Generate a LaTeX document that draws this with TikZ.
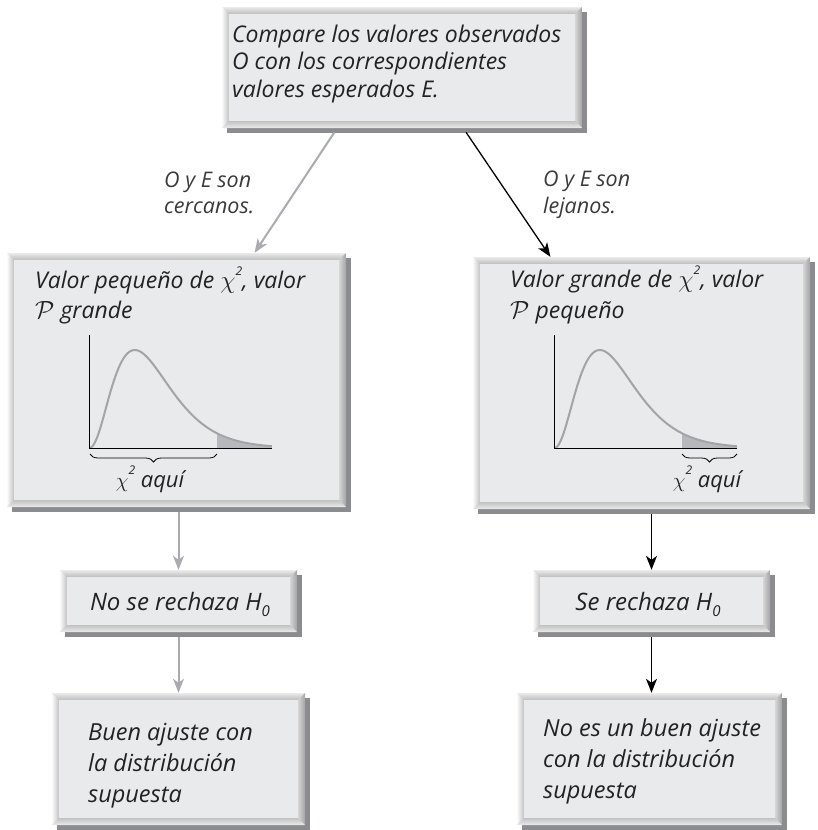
\documentclass[tikz,border=0pt]{standalone}
\usepackage{fontspec}
\setmainfont{Open Sans}
\usetikzlibrary{shadows,calc,decorations.pathreplacing,arrows.meta}
\definecolor{boxfill}{HTML}{E9EAEC}
\definecolor{bevbase}{HTML}{D0D1D3}
\definecolor{shadowc}{HTML}{8B8C8F}
\definecolor{arrgray}{HTML}{AAABAE}
\definecolor{curvegray}{HTML}{A3A4A7}
\definecolor{tailgray}{HTML}{B7B8BB}
\definecolor{txtc}{HTML}{222222}
\definecolor{lblc}{HTML}{3A3A3A}
\newcommand\chigraph[1]{%
  \begin{scope}[shift={#1}]
    \fill[tailgray] plot[domain=0.70:1,samples=40] ({183*\x},{-98*pow(4*\x,2.46)*exp(-2.46*(4*\x-1))}) -- (183,0) -- (128.1,0) -- cycle;
    \draw[curvegray, line width=2pt] plot[domain=0.002:1,samples=120] ({183*\x},{-98*pow(4*\x,2.46)*exp(-2.46*(4*\x-1))});
    \draw[line width=0.9pt] (0,-113) -- (0,0) -- (183,0);
  \end{scope}}
\newcommand\chisq{$\chi$\raisebox{0.55em}{\fontsize{12}{12}\selectfont 2}}
\newcommand\Hzero{H\raisebox{-0.25em}{\fontsize{15}{15}\selectfont 0}}
\tikzset{
  bbox/.style={rectangle, inner sep=0pt, fill=bevbase,
    drop shadow={shadow xshift=5pt, shadow yshift=-5pt, fill=shadowc, opacity=1},
    path picture={
      \coordinate (NW) at (path picture bounding box.north west);
      \coordinate (NE) at (path picture bounding box.north east);
      \coordinate (SW) at (path picture bounding box.south west);
      \coordinate (SE) at (path picture bounding box.south east);
      \coordinate (nw) at ($(NW)+(7pt,-7pt)$);
      \coordinate (ne) at ($(NE)+(-7pt,-7pt)$);
      \coordinate (sw) at ($(SW)+(7pt,7pt)$);
      \coordinate (se) at ($(SE)+(-7pt,7pt)$);
      \shade[top color=black!8, bottom color=black!26] (NW) -- (NE) -- (ne) -- (nw) -- cycle;
      \shade[left color=black!2, right color=black!24] (NW) -- (nw) -- (sw) -- (SW) -- cycle;
      \shade[left color=black!16, right color=black!36] (NE) -- (ne) -- (se) -- (SE) -- cycle;
      \shade[top color=black!24, bottom color=black!8] (SW) -- (sw) -- (se) -- (SE) -- cycle;
      \fill[boxfill] (nw) rectangle (se);
    }},
  txt/.style={anchor=base west, inner sep=0pt, text=txtc, align=left,
    font=\fontsize{23.5}{31}\selectfont\itshape},
  ctxt/.style={anchor=base, inner sep=0pt, text=txtc,
    font=\fontsize{22}{28}\selectfont\itshape},
  lbl/.style={anchor=base west, inner sep=0pt, text=lblc, align=left,
    font=\fontsize{21.5}{26.5}\selectfont\itshape},
  garrow/.style={draw=arrgray, line width=2pt, -{Stealth[length=14pt,width=11pt,inset=4pt]}},
  karrow/.style={draw=black, line width=1.3pt, -{Stealth[length=14pt,width=11pt,inset=4pt]}},
}
\begin{document}
\begin{tikzpicture}[x=1pt,y=-1pt]
\useasboundingbox (0,0) rectangle (817,830);
% boxes
\node[bbox, minimum width=360pt, minimum height=121pt] (top) at (402,67.5) {};
\node[bbox, minimum width=339pt, minimum height=254pt] (midl) at (176.5,380) {};
\node[bbox, minimum width=337pt, minimum height=252pt] (midr) at (641.5,383) {};
\node[bbox, minimum width=237pt, minimum height=62pt] (hl) at (178.5,601) {};
\node[bbox, minimum width=237pt, minimum height=62pt] (hr) at (651.5,601) {};
\node[bbox, minimum width=253pt, minimum height=132pt] (bl) at (178.5,759) {};
\node[bbox, minimum width=265pt, minimum height=132pt] (br) at (649.5,759) {};
% texts (base anchor = last line's baseline)
\node[txt, font=\fontsize{23}{27.5}\selectfont\itshape] (t1) at (232,97) {Compare los valores observados\\O con los correspondientes\\valores esperados E.};
\node[txt, font=\fontsize{23}{30}\selectfont\itshape] (t2) at (35,318) {Valor pequeño de \chisq, valor\\$\mathcal{P}$ grande};
\node[txt, font=\fontsize{23}{31}\selectfont\itshape] (t3) at (510,318) {Valor grande de \chisq, valor\\$\mathcal{P}$ pequeño};
\node[ctxt] (t4) at (150,487) {\chisq\ aquí};
\node[ctxt] (t5) at (707,487) {\chisq\ aquí};
\node[ctxt, font=\fontsize{24}{28}\selectfont\itshape] (t6) at (180,610) {No se rechaza \Hzero};
\node[ctxt, font=\fontsize{24}{28}\selectfont\itshape] (t7) at (648,610) {Se rechaza \Hzero};
\node[txt] (t8) at (88,802) {Buen ajuste con\\la distribución\\supuesta};
\node[txt] (t9) at (543,798) {No es un buen ajuste\\con la distribución\\supuesta};
\node[lbl] (l1) at (164,213.5) {O y E son\\cercanos.};
\node[lbl] (l2) at (543,213) {O y E son\\lejanos.};
% graphs
\chigraph{(89,448)}
\chigraph{(554,448)}
\draw[line width=0.8pt, decorate, decoration={brace, mirror, amplitude=8pt}] (90,454) -- (217,454);
\draw[line width=0.8pt, decorate, decoration={brace, mirror, amplitude=8pt}] (682,454) -- (737,454);
% connectors
\draw[garrow, shorten <=5pt] ($(top.south west)!0.32!(top.south east)$) -- ($(midl.north west)!0.73!(midl.north east)$);
\draw[karrow, shorten <=5pt] ($(top.south west)!0.67!(top.south east)$) -- ($(midr.north west)!0.23!(midr.north east)$);
\draw[garrow, shorten <=5pt] (midl.south -| hl.north) -- (hl.north);
\draw[garrow, shorten <=5pt] (hl.south) -- (hl.south |- bl.north);
\draw[karrow, shorten <=5pt] (midr.south -| hr.north) -- (hr.north);
\draw[karrow, shorten <=5pt] (hr.south) -- (hr.south |- br.north);
\end{tikzpicture}
\end{document}
